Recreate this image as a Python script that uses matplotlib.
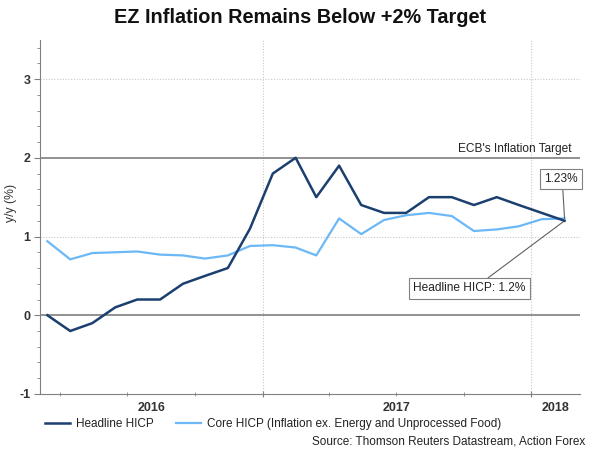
import matplotlib
matplotlib.use("Agg")
import matplotlib.pyplot as plt
import matplotlib.dates as mdates
from matplotlib.ticker import MultipleLocator, NullFormatter
import datetime as dt

plt.rcParams["font.family"] = ["Liberation Sans", "DejaVu Sans"]
plt.rcParams["axes.unicode_minus"] = False

# ---- Data ----
months = [dt.date(2016 + (2 + i) // 12, (2 + i) % 12 + 1, 15) for i in range(24)]  # Mar 2016 .. Feb 2018
headline = [0.0, -0.2, -0.1, 0.1, 0.2, 0.2, 0.4, 0.5, 0.6, 1.1, 1.8, 2.0,
            1.5, 1.9, 1.4, 1.3, 1.3, 1.5, 1.5, 1.4, 1.5, 1.4, 1.3, 1.2]
core = [0.94, 0.71, 0.79, 0.80, 0.81, 0.77, 0.76, 0.72, 0.76, 0.88, 0.89, 0.86,
        0.76, 1.23, 1.03, 1.21, 1.27, 1.30, 1.26, 1.07, 1.09, 1.13, 1.22, 1.23]
year_labels = ["2016", "2017", "2018"]

navy = "#1b3f6e"
light = "#6cb8f6"
txt = "#222222"

fig = plt.figure(figsize=(6, 4.51), dpi=100)
ax = fig.add_axes([0.0667, 0.1264, 0.9, 0.7856])

x0 = dt.date(2016, 3, 5)
x1 = dt.date(2018, 3, 8)
ax.set_xlim(x0, x1)
ax.set_ylim(-1, 3.5)

# reference lines and grid
ax.axhline(2, color="#7f7f7f", lw=1.2, zorder=1)
ax.axhline(0, color="#7f7f7f", lw=1.2, zorder=1)
for v in (1, 3):
    ax.axhline(v, color="#c8c8c8", lw=0.8, ls=(0, (1, 1.5)), zorder=0)
for d in (dt.date(2017, 1, 1), dt.date(2018, 1, 1)):
    ax.axvline(d, color="#c8c8c8", lw=0.8, ls=(0, (1, 1.5)), zorder=0)

ax.plot(months, core, color=light, lw=1.6, zorder=3, label="Core HICP (Inflation ex. Energy and Unprocessed Food)")
ax.plot(months, headline, color=navy, lw=1.8, zorder=4, label="Headline HICP")

# spines
for s in ("top", "right"):
    ax.spines[s].set_visible(False)
for s in ("left", "bottom"):
    ax.spines[s].set_color("#808080")

# y ticks
ax.yaxis.set_major_locator(MultipleLocator(1))
ax.yaxis.set_minor_locator(MultipleLocator(0.2))
ax.tick_params(axis="y", which="major", length=4, color="#808080", labelsize=9, pad=3)
ax.tick_params(axis="y", which="minor", length=2, color="#808080")
for t in ax.get_yticklabels():
    t.set_fontweight("bold")
    t.set_color("#333333")

# x ticks: years as major, quarters as minor
ax.xaxis.set_major_locator(mdates.YearLocator())
ax.xaxis.set_major_formatter(NullFormatter())
ax.xaxis.set_minor_locator(mdates.MonthLocator(bymonth=[4, 7, 10]))
ax.tick_params(axis="x", which="major", length=5, direction="inout", color="#808080")
ax.tick_params(axis="x", which="minor", length=3, direction="inout", color="#808080")

bounds = [mdates.date2num(x0), mdates.date2num(dt.date(2017, 1, 1)),
          mdates.date2num(dt.date(2018, 1, 1)), mdates.date2num(x1)]
for i, lab in enumerate(year_labels):
    ax.text((bounds[i] + bounds[i + 1]) / 2, -0.04, lab, transform=ax.get_xaxis_transform(),
            ha="center", va="center", fontsize=9, fontweight="bold", color="#333333")

ax.set_ylabel("y/y (%)", fontsize=8.8, color="#333333")
ax.yaxis.set_label_coords(-0.043, 0.54)

# annotations
ax.text(x1 - dt.timedelta(days=12), 2.04, "ECB's Inflation Target", ha="right", va="bottom",
        fontsize=8.6, color=txt)
ax.annotate("1.23%", xy=(months[-1], core[-1]), xytext=(months[-1] - dt.timedelta(days=5), 1.73),
            ha="center", va="center", fontsize=8.6, color=txt,
            bbox=dict(boxstyle="square,pad=0.35", fc="white", ec="#808080", lw=0.8),
            arrowprops=dict(arrowstyle="-", color="#606060", lw=0.8, shrinkA=0, shrinkB=0,
                            relpos=(0.55, 0.0)))
ax.annotate("Headline HICP: 1.2%", xy=(months[-1], headline[-1]), xytext=(dt.date(2017, 10, 9), 0.34),
            ha="center", va="center", fontsize=8.6, color=txt,
            bbox=dict(boxstyle="square,pad=0.35", fc="white", ec="#808080", lw=0.8),
            arrowprops=dict(arrowstyle="-", color="#606060", lw=0.8, shrinkA=0, shrinkB=0,
                            relpos=(0.61, 1.0)))

# title
fig.text(0.5, 0.962, "EZ Inflation Remains Below +2% Target", ha="center", va="center",
         fontsize=14.3, fontweight="bold", color="#111111")

# legend
h, l = ax.get_legend_handles_labels()
leg = fig.legend(h[::-1], l[::-1], loc="center left", bbox_to_anchor=(0.075, 0.06), ncol=2,
                 frameon=False, fontsize=8.5, handlelength=2.1, columnspacing=1.9, handletextpad=0.5,
                 borderaxespad=0, borderpad=0)
for t in leg.get_texts():
    t.set_color(txt)

fig.text(0.975, 0.022, "Source: Thomson Reuters Datastream, Action Forex", ha="right", va="center",
         fontsize=8.5, color=txt)

fig.savefig("out.png", dpi=100)
